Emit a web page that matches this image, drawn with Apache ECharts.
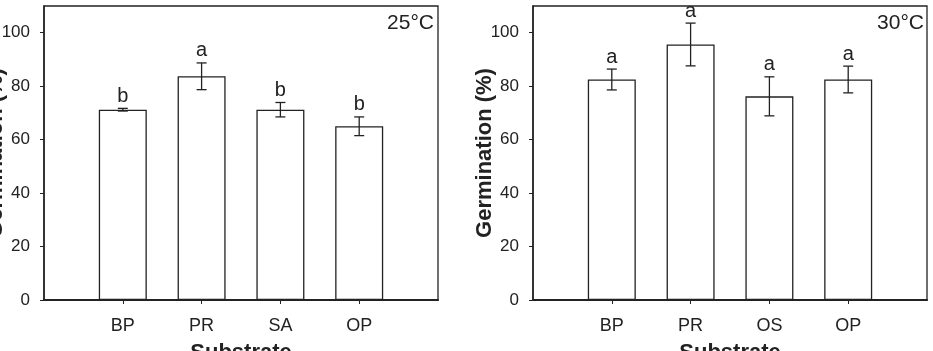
<!DOCTYPE html>
<html>
<head>
    <meta charset="utf-8">
    <title>Germination</title>
    <script src="https://cdn.jsdelivr.net/npm/echarts@6/dist/echarts.min.js"></script>
    <style>
        html, body { margin: 0; padding: 0; background: #fff; }
        #chart { width: 933px; height: 351px; }
    </style>
</head>
<body>
<div id="chart"></div>
<script>
    // 25°C panel
    var cats25 = ['BP', 'PR', 'SA', 'OP'];
    var mean25 = [71.2, 83.7, 71.2, 65.0];
    var err25 = [0.5, 5.0, 2.7, 3.5];
    var letters25 = ['b', 'a', 'b', 'b'];

    // 30°C panel
    var cats30 = ['BP', 'PR', 'OS', 'OP'];
    var mean30 = [82.5, 95.6, 76.2, 82.5];
    var err30 = [3.9, 8.0, 7.3, 5.0];
    var letters30 = ['a', 'a', 'a', 'a'];

    var yTicks = [0, 20, 40, 60, 80, 100];
    var panelTitles = ['25°C', '30°C'];

    var FONT = 'Liberation Sans, Arial, sans-serif';
    var INK = '#222';

    var chart = echarts.init(document.getElementById('chart'));

    // pad one empty slot each side so the bars sit like the original
    function padCats(c) { return [''].concat(c).concat(['']); }
    function padVals(v) { return ['-'].concat(v).concat(['-']); }
    function errData(m, e, l) {
        return m.map(function (v, i) { return [i + 1, v - e[i], v + e[i], l[i]]; });
    }

    function renderErr(params, api) {
        var x = api.value(0);
        var lo = api.coord([x, api.value(1)]);
        var hi = api.coord([x, api.value(2)]);
        var cap = 5;
        var st = { stroke: INK, lineWidth: 1.3 };
        return {
            type: 'group',
            children: [
                { type: 'line', shape: { x1: lo[0], y1: lo[1], x2: hi[0], y2: hi[1] }, style: st },
                { type: 'line', shape: { x1: lo[0] - cap, y1: lo[1], x2: lo[0] + cap, y2: lo[1] }, style: st },
                { type: 'line', shape: { x1: hi[0] - cap, y1: hi[1], x2: hi[0] + cap, y2: hi[1] }, style: st },
                {
                    type: 'text',
                    x: hi[0], y: hi[1] - 2,
                    style: {
                        text: api.value(3), fill: INK, font: '20px ' + FONT,
                        align: 'center', verticalAlign: 'bottom'
                    }
                }
            ]
        };
    }

    function xAxisFor(idx, cats) {
        return {
            type: 'category', gridIndex: idx, data: padCats(cats), boundaryGap: false,
            axisLine: { lineStyle: { color: INK, width: 2 } },
            axisTick: {
                show: true, length: 4, lineStyle: { color: INK },
                interval: function (i) { return i > 0 && i <= cats.length; }
            },
            axisLabel: { color: INK, fontSize: 18, fontFamily: FONT, margin: 17, interval: 0 },
            name: 'Substrate', nameLocation: 'middle', nameGap: 42, nameMoveOverlap: false,
            nameTextStyle: { color: INK, fontSize: 22, fontWeight: 'bold', fontFamily: FONT }
        };
    }

    function yAxisFor(idx) {
        return {
            type: 'value', gridIndex: idx, min: 0, max: 110, interval: 10,
            axisLine: { show: true, lineStyle: { color: INK, width: 1.5 } },
            axisTick: { show: true, length: 4, lineStyle: { color: INK }, customValues: yTicks },
            axisLabel: { color: INK, fontSize: 17, fontFamily: FONT, margin: 14, customValues: yTicks },
            splitLine: { show: false },
            name: 'Germination (%)', nameLocation: 'middle', nameGap: 37, nameMoveOverlap: false,
            nameTextStyle: { color: INK, fontSize: 22, fontWeight: 'bold', fontFamily: FONT }
        };
    }

    function barSeries(idx, m) {
        return {
            type: 'bar', xAxisIndex: idx, yAxisIndex: idx, data: padVals(m), barWidth: 48,
            itemStyle: { color: '#fff', borderColor: INK, borderWidth: 1.3 },
            silent: true
        };
    }

    function errSeries(idx, m, e, l) {
        return {
            type: 'custom', xAxisIndex: idx, yAxisIndex: idx,
            data: errData(m, e, l), renderItem: renderErr, z: 5, silent: true
        };
    }

    chart.setOption({
        animation: false,
        grid: [
            { left: 44, top: 6, width: 394, height: 294, show: true, borderColor: INK, borderWidth: 1.3, outerBoundsMode: 'none', containLabel: false },
            { left: 533, top: 6, width: 394, height: 294, show: true, borderColor: INK, borderWidth: 1.3, outerBoundsMode: 'none', containLabel: false }
        ],
        xAxis: [xAxisFor(0, cats25), xAxisFor(1, cats30)],
        yAxis: [yAxisFor(0), yAxisFor(1)],
        graphic: [
            { type: 'text', x: 434, y: 23, style: { text: panelTitles[0], fill: INK, font: '21px ' + FONT, align: 'right', verticalAlign: 'middle' } },
            { type: 'text', x: 924, y: 23, style: { text: panelTitles[1], fill: INK, font: '21px ' + FONT, align: 'right', verticalAlign: 'middle' } }
        ],
        series: [
            barSeries(0, mean25),
            errSeries(0, mean25, err25, letters25),
            barSeries(1, mean30),
            errSeries(1, mean30, err30, letters30)
        ]
    });

    window.onresize = function () {
        chart.resize();
    };
</script>
</body>
</html>
